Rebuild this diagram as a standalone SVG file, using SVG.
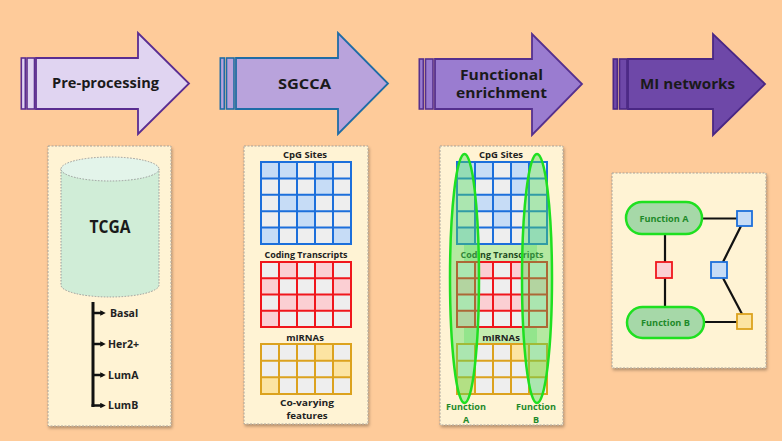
<svg xmlns="http://www.w3.org/2000/svg" xmlns:xlink="http://www.w3.org/1999/xlink" width="782" height="441" viewBox="0 0 782 441">
<defs>
<style>
.hdr{font-family:"Open Sans","DejaVu Sans",sans-serif;font-weight:700;font-size:14.5px;fill:#1a1a1a;text-anchor:middle}
.lbl{font-family:"Open Sans","DejaVu Sans",sans-serif;font-weight:700;font-size:9.5px;fill:#222;text-anchor:middle}
.big{font-family:"Open Sans","DejaVu Sans",sans-serif;font-weight:700;font-size:9.5px;fill:#222;text-anchor:middle}
.tree{font-family:"Open Sans","DejaVu Sans",sans-serif;font-weight:700;font-size:10.5px;fill:#222}
.fn{font-family:"Open Sans","DejaVu Sans",sans-serif;font-weight:700;font-size:9.5px;fill:#1E8A2A;text-anchor:middle}
.fs{font-size:9px}
.panel{fill:#FFF3D4;stroke:#A8A39A;stroke-width:1;stroke-dasharray:2 1.5;filter:url(#sh)}
.gray{fill:#EEEEEE}
.bl{fill:#C6DCF6}.rd{fill:#FBCFD3}.yl{fill:#FCE4A2}
.blS{fill:none;stroke:#1C6FDB;stroke-width:2}
.rdS{fill:none;stroke:#F0161C;stroke-width:2}
.ylS{fill:none;stroke:#DCA21E;stroke-width:2}
.oval{fill:#4EDC5A;fill-opacity:0.42;stroke:#1FE020;stroke-width:2.5}
.edge{stroke:#111;stroke-width:2.2;fill:none}
.pill{fill:#A6D8A8;stroke:#1FE020;stroke-width:2.5}
</style>
<filter id="sh" x="-10%" y="-10%" width="125%" height="125%">
<feDropShadow dx="1" dy="2" stdDeviation="1.5" flood-color="#000" flood-opacity="0.3"/>
</filter>
<marker id="ah" viewBox="0 0 6 6" refX="3" refY="3" markerWidth="2.2" markerHeight="2.2" orient="auto" markerUnits="strokeWidth">
<path d="M0,0 L6,3 L0,6 Z" fill="#111"/>
</marker>
<g id="cpg">
<rect class="gray" x="261" y="162" width="90" height="82"/>
<rect class="bl" x="261" y="162" width="18" height="16.4"/>
<rect class="bl" x="279" y="162" width="18" height="16.4"/>
<rect class="bl" x="315" y="162" width="18" height="16.4"/>
<rect class="bl" x="315" y="178.4" width="18" height="16.4"/>
<rect class="bl" x="279" y="194.8" width="18" height="16.4"/>
<rect class="bl" x="297" y="194.8" width="18" height="16.4"/>
<rect class="bl" x="297" y="211.2" width="18" height="16.4"/>
<rect class="bl" x="261" y="227.6" width="18" height="16.4"/>
<rect class="bl" x="333" y="227.6" width="18" height="16.4"/>
<path class="blS" d="M261,162H351V244H261Z M279,162V244 M297,162V244 M315,162V244 M333,162V244 M261,178.4H351 M261,194.8H351 M261,211.2H351 M261,227.6H351"/>
</g>
<g id="cod">
<rect class="gray" x="261" y="262" width="90" height="65"/>
<rect class="rd" x="279" y="262" width="18" height="16.25"/>
<rect class="rd" x="315" y="262" width="18" height="16.25"/>
<rect class="rd" x="261" y="278.25" width="18" height="16.25"/>
<rect class="rd" x="333" y="278.25" width="18" height="16.25"/>
<rect class="rd" x="279" y="294.5" width="54" height="16.25"/>
<rect class="rd" x="261" y="310.75" width="18" height="16.25"/>
<path class="rdS" d="M261,262H351V327H261Z M279,262V327 M297,262V327 M315,262V327 M333,262V327 M261,278.25H351 M261,294.5H351 M261,310.75H351"/>
</g>
<g id="mir">
<rect class="gray" x="261" y="344" width="90" height="50"/>
<rect class="yl" x="315" y="344" width="18" height="16.67"/>
<rect class="yl" x="333" y="360.67" width="18" height="16.67"/>
<rect class="yl" x="261" y="377.33" width="18" height="16.67"/>
<path class="ylS" d="M261,344H351V394H261Z M279,344V394 M297,344V394 M315,344V394 M333,344V394 M261,360.67H351 M261,377.33H351"/>
</g>
</defs>

<rect x="0" y="0" width="782" height="441" fill="#FECB9A"/>

<g id="stage-preprocessing">
<rect x="21.3" y="58" width="4" height="51" fill="#E0D4F1" stroke="#5A2D91" stroke-width="1.6"/>
<rect x="27" y="58" width="7.5" height="51" fill="#E0D4F1" stroke="#5A2D91" stroke-width="1.6"/>
<polygon points="36,58 138,58 138,33 189,83.5 138,134 138,109 36,109" fill="#E0D4F1" stroke="#5A2D91" stroke-width="1.8" stroke-linejoin="miter"/>
<text class="hdr" x="105.5" y="88" textLength="107" lengthAdjust="spacingAndGlyphs">Pre-processing</text>
</g>

<g id="stage-sgcca">
<rect x="220.3" y="58" width="4" height="51" fill="#B9A3DC" stroke="#1F6CA6" stroke-width="1.6"/>
<rect x="226.5" y="58" width="7.5" height="51" fill="#B9A3DC" stroke="#1F6CA6" stroke-width="1.6"/>
<polygon points="236,58 338,58 338,33 388,83.5 338,134 338,109 236,109" fill="#B9A3DC" stroke="#1F6CA6" stroke-width="1.8"/>
<text class="hdr" x="304.5" y="89" textLength="53" lengthAdjust="spacingAndGlyphs">SGCCA</text>
</g>

<g id="stage-functional">
<rect x="419.3" y="59" width="4" height="50" fill="#9A7CD0" stroke="#55308E" stroke-width="1.6"/>
<rect x="425.5" y="59" width="7.5" height="50" fill="#9A7CD0" stroke="#55308E" stroke-width="1.6"/>
<polygon points="435,59 532,59 532,34 582,84 532,135 532,109 435,109" fill="#9A7CD0" stroke="#55308E" stroke-width="1.8"/>
<text class="hdr" x="501.5" y="80" textLength="83" lengthAdjust="spacingAndGlyphs">Functional</text>
<text class="hdr" x="501.5" y="98" textLength="91" lengthAdjust="spacingAndGlyphs">enrichment</text>
</g>

<g id="stage-mi">
<rect x="613.3" y="59" width="4" height="50" fill="#6E48A8" stroke="#4A2784" stroke-width="1.6"/>
<rect x="619.5" y="59" width="7.5" height="50" fill="#6E48A8" stroke="#4A2784" stroke-width="1.6"/>
<polygon points="628,59 713,59 713,34 765,84 713,135 713,109 628,109" fill="#6E48A8" stroke="#4A2784" stroke-width="1.8"/>
<text class="hdr" x="687.5" y="89" textLength="95" lengthAdjust="spacingAndGlyphs">MI networks</text>
</g>

<g id="panel-tcga">
<rect class="panel" x="48" y="146" width="123" height="280"/>
<path d="M61,169 L61,285 A49,12 0 0 0 159,285 L159,169 Z" fill="#D0EDD7" stroke="#9a9a9a" stroke-width="1" stroke-dasharray="1.5 1.5"/>
<ellipse cx="110" cy="169" rx="49" ry="12" fill="#E3F4EA" stroke="#9a9a9a" stroke-width="1" stroke-dasharray="1.5 1.5"/>
<text x="110" y="233" style="font-family:'Open Sans','DejaVu Sans',sans-serif;font-weight:700;font-size:18px;fill:#1a1a1a;text-anchor:middle" textLength="41" lengthAdjust="spacingAndGlyphs">TCGA</text>
<text class="tree" x="110" y="317">Basal</text>
<text class="tree" x="108" y="348">Her2+</text>
<text class="tree" x="108" y="379">LumA</text>
<text class="tree" x="108" y="409">LumB</text>
</g>

<g id="panel-sgcca">
<rect class="panel" x="244" y="146" width="124" height="278"/>
<text class="lbl" x="305" y="158">CpG Sites</text>
<use xlink:href="#cpg"/>
<text class="lbl" x="306" y="258" textLength="83" lengthAdjust="spacingAndGlyphs">Coding Transcripts</text>
<use xlink:href="#cod"/>
<text class="lbl" x="305" y="341">mIRNAs</text>
<use xlink:href="#mir"/>
<text class="big" x="307" y="406" textLength="54" lengthAdjust="spacingAndGlyphs">Co-varying</text>
<text class="big" x="307" y="419" textLength="41" lengthAdjust="spacingAndGlyphs">features</text>
</g>

<g id="panel-enrichment">
<rect class="panel" x="440" y="146" width="123" height="279"/>
<rect x="464" y="165" width="73" height="229" fill="#C4EDB0"/>
<text class="lbl" x="501" y="158">CpG Sites</text>
<g transform="translate(196,0)">
<use xlink:href="#cpg"/>
<use xlink:href="#cod"/>
<use xlink:href="#mir"/>
</g>
<text class="lbl" x="502" y="258" textLength="83" lengthAdjust="spacingAndGlyphs" style="fill:#1E4A22">Coding Transcripts</text>
<text class="lbl" x="501" y="341">mIRNAs</text>
<ellipse class="oval" cx="464.5" cy="278.5" rx="14.5" ry="124.5"/>
<ellipse class="oval" cx="537" cy="278.5" rx="15" ry="124.5"/>
<text class="fn fs" x="466" y="410" textLength="40" lengthAdjust="spacingAndGlyphs">Function</text>
<text class="fn fs" x="466" y="423">A</text>
<text class="fn fs" x="536" y="410" textLength="40" lengthAdjust="spacingAndGlyphs">Function</text>
<text class="fn fs" x="536" y="423">B</text>
</g>

<g id="panel-network">
<rect class="panel" x="612" y="173" width="154" height="195"/>
</g>

<g id="connectors">
<path d="M93,302 V407" stroke="#111" stroke-width="3" fill="none"/>
<path d="M93,313 H103" stroke="#111" stroke-width="2.5" marker-end="url(#ah)"/>
<path d="M93,344 H103" stroke="#111" stroke-width="2.5" marker-end="url(#ah)"/>
<path d="M93,375 H103" stroke="#111" stroke-width="2.5" marker-end="url(#ah)"/>
<path d="M91.5,405.5 H103" stroke="#111" stroke-width="2.5" marker-end="url(#ah)"/>
<path class="edge" d="M665,234 V307"/>
<path class="edge" d="M702,218.5 H737"/>
<path class="edge" d="M741,226 L723,262"/>
<path class="edge" d="M723,278 L742,314"/>
<path class="edge" d="M704,322 H737"/>
</g>

<g id="node-function-a">
<rect class="pill" x="626" y="202" width="76" height="32" rx="16"/>
<text class="fn" x="664" y="222" textLength="49" lengthAdjust="spacingAndGlyphs">Function A</text>
</g>
<g id="node-function-b">
<rect class="pill" x="627" y="307" width="77" height="31" rx="15.5"/>
<text class="fn" x="665.5" y="326" textLength="49" lengthAdjust="spacingAndGlyphs">Function B</text>
</g>
<g id="node-red">
<rect x="656" y="262" width="16" height="16" fill="#FBCFD3" stroke="#F0161C" stroke-width="1.8"/>
</g>
<g id="node-blue-1">
<rect x="737" y="211" width="15" height="15" fill="#C6DCF6" stroke="#1C6FDB" stroke-width="1.8"/>
</g>
<g id="node-blue-2">
<rect x="711" y="262" width="16" height="16" fill="#C6DCF6" stroke="#1C6FDB" stroke-width="1.8"/>
</g>
<g id="node-yellow">
<rect x="737" y="314" width="15" height="15" fill="#FCE4A2" stroke="#DCA21E" stroke-width="1.8"/>
</g>
</svg>
